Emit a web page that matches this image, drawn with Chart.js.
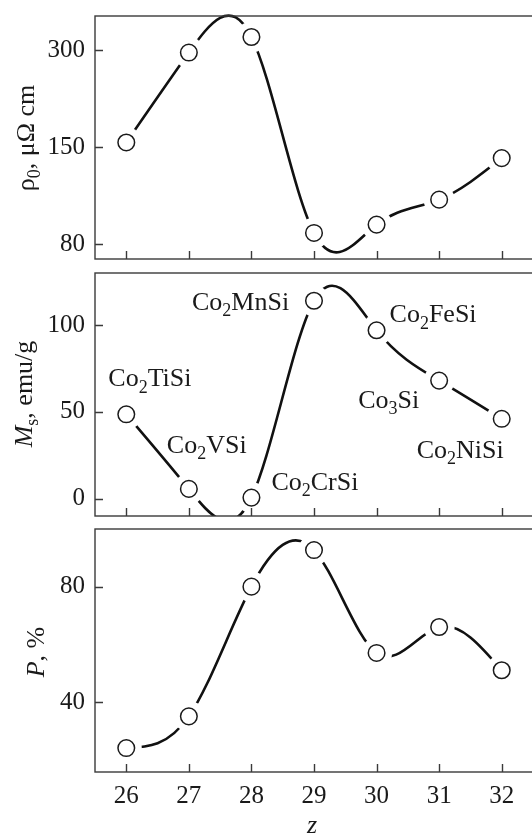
<!DOCTYPE html>
<html>
<head>
<meta charset="utf-8">
<script src="https://cdn.jsdelivr.net/npm/chart.js@4.4.0/dist/chart.umd.min.js"></script>
<style>
  html, body { margin: 0; padding: 0; background: #fff; overflow: hidden; }
  #wrap { position: relative; width: 532px; height: 836px; overflow: hidden; background: #fff; }
  #wrap canvas { position: absolute; left: 0; }
</style>
</head>
<body>
<div id="wrap">
  <canvas id="rhoChart" width="540" height="266" style="top:0"></canvas>
  <canvas id="msChart" width="540" height="256" style="top:266px"></canvas>
  <canvas id="polChart" width="540" height="314" style="top:522px"></canvas>
</div>
<script>
// z - number of valence electrons per formula unit
var zValues = [26, 27, 28, 29, 30, 31, 32];
var compounds = ['Co2TiSi', 'Co2VSi', 'Co2CrSi', 'Co2MnSi', 'Co2FeSi', 'Co3Si', 'Co2NiSi'];

// residual resistivity, uOhm cm
var rho0 = [157, 296, 320, 88, 94, 112, 142];
// saturation magnetization, emu/g
var magnetization = [48.6, 5.6, 0.6, 114, 97, 68, 46];
// spin polarization, %
var polarization = [24, 35, 80, 92.7, 57, 66, 51];

var rhoTicks = [80, 150, 300];
var msTicks = [0, 50, 100];
var polTicks = [40, 80];

var SERIF = '"Liberation Serif", "Times New Roman", serif';
var INK = '#1a1a1a';
var FRAME = '#3a3a3a';

// axis where every gap between neighbouring ticks gets the same length
class BrokenScale extends Chart.LinearScale {
    static id = 'broken';

    toUnit(v) {
        var b = this.options.breaks;
        var n = b.length;
        if (v <= b[1]) return (v - b[0]) / (b[1] - b[0]);
        for (var i = 1; i < n - 1; i++) {
            if (v <= b[i + 1]) return i + (v - b[i]) / (b[i + 1] - b[i]);
        }
        return (n - 2) + (v - b[n - 2]) / (b[n - 1] - b[n - 2]);
    }

    getPixelForValue(value) {
        if (value === null || value === undefined) return NaN;
        var lo = this.toUnit(this.min);
        var hi = this.toUnit(this.max);
        return this.getPixelForDecimal((this.toUnit(value) - lo) / (hi - lo));
    }
}
Chart.register(BrokenScale);

// natural cubic spline through the point elements, written as bezier control points
var naturalSpline = {
    id: 'naturalSpline',
    beforeDatasetDraw: function (chart, args) {
        if (!chart.data.datasets[args.index].spline) return;
        var line = args.meta.dataset;
        var pts = args.meta.data;
        var n = pts.length - 1;
        var h = [], c = [0], d = [0];
        for (var i = 0; i < n; i++) h.push(pts[i + 1].x - pts[i].x);
        // tridiagonal solve for second derivatives, ends free
        for (i = 1; i < n; i++) {
            var r = 6 * ((pts[i + 1].y - pts[i].y) / h[i] - (pts[i].y - pts[i - 1].y) / h[i - 1]);
            var den = 2 * (h[i - 1] + h[i]) - h[i - 1] * c[i - 1];
            c.push(h[i] / den);
            d.push((r - h[i - 1] * d[i - 1]) / den);
        }
        var M = new Array(n + 1).fill(0);
        for (i = n - 1; i >= 1; i--) M[i] = d[i] - c[i] * M[i + 1];
        for (i = 0; i < n; i++) {
            var s0 = (pts[i + 1].y - pts[i].y) / h[i] - h[i] * (2 * M[i] + M[i + 1]) / 6;
            var s1 = (pts[i + 1].y - pts[i].y) / h[i] + h[i] * (M[i] + 2 * M[i + 1]) / 6;
            pts[i].cp2x = pts[i].x + h[i] / 3;
            pts[i].cp2y = pts[i].y + s0 * h[i] / 3;
            pts[i + 1].cp1x = pts[i + 1].x - h[i] / 3;
            pts[i + 1].cp1y = pts[i + 1].y - s1 * h[i] / 3;
        }
        pts[0].cp1x = pts[0].x; pts[0].cp1y = pts[0].y;
        pts[n].cp2x = pts[n].x; pts[n].cp2y = pts[n].y;
        line._pointsUpdated = true;
        line._path = undefined;
    }
};

function fontFor(seg, size) {
    var s = seg.sub ? Math.round(size * 0.7) : size;
    return (seg.italic ? 'italic ' : '') + s + 'px ' + SERIF;
}

// text with italics and subscripts, drawn piece by piece
function drawRich(ctx, segs, x, y, size, align) {
    var w = 0;
    segs.forEach(function (s) {
        ctx.font = fontFor(s, size);
        s.w = ctx.measureText(s.text).width;
        w += s.w;
    });
    var cx = x;
    if (align === 'center') cx = x - w / 2;
    if (align === 'right') cx = x - w;
    ctx.textAlign = 'left';
    ctx.textBaseline = 'alphabetic';
    segs.forEach(function (s) {
        ctx.font = fontFor(s, size);
        ctx.fillText(s.text, cx, s.sub ? y + size * 0.24 : y);
        cx += s.w;
    });
}

function formula(name) {
    return name.split(/(\d+)/).filter(function (p) { return p.length; }).map(function (p) {
        return { text: p, sub: /^\d+$/.test(p) };
    });
}

// frame, inward ticks, rotated y title and optional point labels
function panelDecor(cfg) {
    return {
        id: 'panelDecor',
        afterDatasetsDraw: function (chart) {
            var a = chart.chartArea;
            var ctx = chart.ctx;
            var xs = chart.scales.x;
            var ys = chart.scales.y;
            ctx.save();
            ctx.strokeStyle = FRAME;
            ctx.lineWidth = 1.4;
            ctx.strokeRect(a.left, a.top, a.right - a.left, a.bottom - a.top);
            ctx.beginPath();
            zValues.forEach(function (z) {
                var px = Math.round(xs.getPixelForValue(z)) + 0.5;
                ctx.moveTo(px, a.bottom);
                ctx.lineTo(px, a.bottom - 8);
            });
            ys.ticks.forEach(function (t) {
                var py = Math.round(ys.getPixelForValue(t.value)) + 0.5;
                ctx.moveTo(a.left, py);
                ctx.lineTo(a.left + 8, py);
            });
            ctx.stroke();

            ctx.fillStyle = INK;
            ctx.save();
            ctx.translate(cfg.titleX, cfg.titleY);
            ctx.rotate(-Math.PI / 2);
            drawRich(ctx, cfg.title, 0, 0, 26, 'center');
            ctx.restore();

            if (cfg.pointLabels) {
                var pts = chart.getDatasetMeta(0).data;
                cfg.pointLabels.forEach(function (lab, i) {
                    var off = cfg.labelOffsets[i];
                    drawRich(ctx, formula(lab), pts[i].x + off[0], pts[i].y + off[1], 26, 'left');
                });
            }
            if (cfg.xTitle) {
                drawRich(ctx, [{ text: cfg.xTitle, italic: true }], (a.left + a.right) / 2 - 2, cfg.xTitleY, 26, 'center');
            }
            ctx.restore();
        }
    };
}

function curveDatasets(values, lineClip) {
    var pts = zValues.map(function (z, i) { return { x: z, y: values[i] }; });
    return [
        {
            // open circles
            data: pts,
            showLine: false,
            pointRadius: 8.3,
            pointBorderWidth: 1.5,
            pointBorderColor: INK,
            pointBackgroundColor: '#fff',
            clip: false
        },
        {
            // smooth curve; white discs leave a gap round each circle
            data: pts,
            spline: true,
            borderColor: '#111',
            borderWidth: 2.6,
            tension: 0.4,
            pointRadius: 15.5,
            pointBorderWidth: 0,
            pointBackgroundColor: '#fff',
            clip: lineClip
        }
    ];
}

function makeChart(canvasId, opt) {
    var ctx = document.getElementById(canvasId).getContext('2d');
    return new Chart(ctx, {
        type: 'line',
        data: { datasets: curveDatasets(opt.values, opt.clip) },
        options: {
            responsive: false,
            animation: false,
            events: [],
            elements: { line: { capBezierPoints: false } },
            layout: {
                autoPadding: false,
                padding: { top: opt.padTop, right: 7, bottom: 0, left: 0 }
            },
            plugins: { legend: { display: false }, tooltip: { enabled: false } },
            scales: {
                x: {
                    type: 'linear',
                    min: 25.5,
                    max: 32.5,
                    grid: { display: false, drawTicks: false },
                    border: { display: false },
                    ticks: {
                        display: opt.xLabels,
                        color: INK,
                        padding: 9,
                        font: { family: SERIF, size: 25 }
                    },
                    afterBuildTicks: function (s) {
                        s.ticks = zValues.map(function (z) { return { value: z }; });
                    },
                    afterFit: function (s) {
                        s.height = opt.xHeight;
                        s.paddingLeft = 0;
                        s.paddingRight = 0;
                    }
                },
                y: Object.assign({
                    grid: { display: false, drawTicks: false },
                    border: { display: false },
                    ticks: {
                        color: INK,
                        padding: 10,
                        font: { family: SERIF, size: 25 }
                    },
                    afterBuildTicks: function (s) {
                        s.ticks = opt.ticks.map(function (v) { return { value: v }; });
                    },
                    afterFit: function (s) {
                        s.width = 95;
                        s.paddingTop = 0;
                        s.paddingBottom = 0;
                    }
                }, opt.yScale)
            }
        },
        plugins: [naturalSpline, panelDecor(opt.decor)]
    });
}

makeChart('rhoChart', {
    values: rho0,
    ticks: rhoTicks,
    clip: false,
    padTop: 16,
    xHeight: 7,
    xLabels: false,
    yScale: { type: 'broken', breaks: rhoTicks, min: 69.2, max: 352.5 },
    decor: {
        titleX: 34,
        titleY: 138,
        title: [{ text: 'ρ' }, { text: '0', sub: true }, { text: ', μΩ cm' }]
    }
});

makeChart('msChart', {
    values: magnetization,
    ticks: msTicks,
    clip: 0,
    padTop: 7,
    xHeight: 6,
    xLabels: false,
    yScale: { type: 'linear', min: -10, max: 130 },
    decor: {
        titleX: 32,
        titleY: 128,
        title: [{ text: 'M', italic: true }, { text: 's', sub: true }, { text: ', emu/g' }],
        pointLabels: compounds,
        labelOffsets: [[-18, -28], [-22, -36], [20, -8], [-122, 9], [13, -8], [-81, 27], [-85, 39]]
    }
});

makeChart('polChart', {
    values: polarization,
    ticks: polTicks,
    clip: false,
    padTop: 7,
    xHeight: 64,
    xLabels: true,
    yScale: { type: 'linear', min: 15.7, max: 100 },
    decor: {
        titleX: 44,
        titleY: 130,
        title: [{ text: 'P', italic: true }, { text: ', %' }],
        xTitle: 'z',
        xTitleY: 311
    }
});
</script>
</body>
</html>
